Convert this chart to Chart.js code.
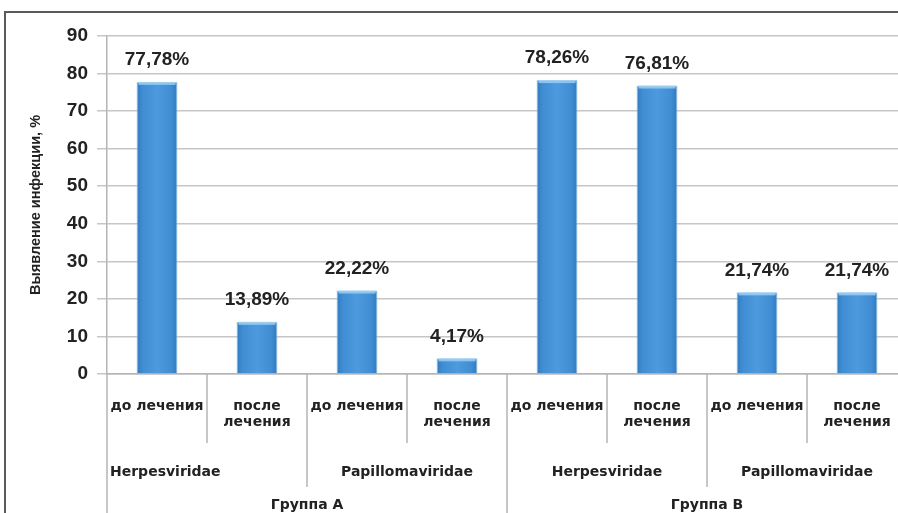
<!DOCTYPE html>
<html>
<head>
<meta charset="utf-8">
<script src="https://cdn.jsdelivr.net/npm/chart.js@4.4.1/dist/chart.umd.min.js"></script>
<style>
  body { margin: 0; background: #fff; overflow: hidden; }
  #wrap { position: relative; width: 898px; height: 513px; overflow: hidden; }
  #frame { position: absolute; left: 4px; top: 11px; width: 1000px; height: 600px;
           border-left: 2px solid #5a5a5a; border-top: 2px solid #5a5a5a; pointer-events: none; }
  canvas { position: absolute; left: 0; top: 0; }
</style>
</head>
<body>
<div id="wrap">
  <canvas id="myChart" width="915" height="513"></canvas>
  <div id="frame"></div>
</div>
<script>
// categories (three levels of the axis)
var stages = [
  "до лечения", ["после", "лечения"], "до лечения", ["после", "лечения"],
  "до лечения", ["после", "лечения"], "до лечения", ["после", "лечения"]
];
var families = ["Herpesviridae", "Papillomaviridae", "Herpesviridae", "Papillomaviridae"];
var groups = ["Группа А", "Группа В"];

// values, %
var values = [77.78, 13.89, 22.22, 4.17, 78.26, 76.81, 21.74, 21.74];

// y ticks
var yMin = 0;
var yMax = 90;
var yStep = 10;

var ctx = document.getElementById("myChart").getContext("2d");

// horizontal gradient so the bars look a bit rounded
function barColor(context) {
  var chart = context.chart;
  var xs = chart.scales.x;
  if (!xs || context.dataIndex === undefined) return "#4a94d6";
  var cx = xs.getPixelForValue(context.dataIndex);
  var w = (xs.width / stages.length) * 0.41;
  if (!isFinite(cx) || !isFinite(w) || w <= 0) return "#4a94d6";
  var g = chart.ctx.createLinearGradient(cx - w / 2, 0, cx + w / 2, 0);
  g.addColorStop(0, "#3079bd");
  g.addColorStop(0.15, "#418dd3");
  g.addColorStop(0.5, "#4f9ade");
  g.addColorStop(0.85, "#418dd3");
  g.addColorStop(1, "#3079bd");
  return g;
}

// percent labels above the bars
var valueLabels = {
  id: "valueLabels",
  afterDatasetsDraw: function (chart) {
    var c = chart.ctx;
    var meta = chart.getDatasetMeta(0);
    c.save();
    c.font = "bold 19px 'Liberation Sans', Arial, sans-serif";
    c.textAlign = "center";
    c.textBaseline = "middle";
    meta.data.forEach(function (bar, i) {
      // light cap on top of the bar
      c.fillStyle = "rgba(160,210,245,0.8)";
      c.fillRect(bar.x - bar.width / 2 + 2, bar.y, bar.width - 4, 3);
      c.fillStyle = "#222";
      var txt = values[i].toFixed(2).replace(".", ",") + "%";
      c.fillText(txt, bar.x, bar.y - 22);
    });
    c.restore();
  }
};

// second and third rows of the category axis plus separators
var groupAxis = {
  id: "groupAxis",
  afterDraw: function (chart) {
    var xs = chart.scales.x;
    var c = chart.ctx;
    var catW = xs.width / stages.length;
    var top = xs.top;
    var bottom = chart.height;
    c.save();
    c.strokeStyle = "#b4b4b4";
    c.lineWidth = 1.5;
    function vline(x, y2) {
      c.beginPath();
      c.moveTo(x, top);
      c.lineTo(x, y2);
      c.stroke();
    }
    for (var i = 0; i <= stages.length; i++) {
      var x = xs.left + i * catW;
      if (i % 4 === 0) vline(x, bottom);
      else if (i % 2 === 0) vline(x, top + 113);
      else vline(x, top + 69);
    }
    c.fillStyle = "#222";
    c.font = "bold 14px 'DejaVu Sans', sans-serif";
    c.textBaseline = "middle";
    var per = stages.length / families.length;
    families.forEach(function (f, k) {
      var l = xs.left + k * per * catW;
      if (k === 0) {
        // first one sits at the left edge in the original
        c.textAlign = "left";
        c.fillText(f, l + 3, top + 98);
      } else {
        c.textAlign = "center";
        c.fillText(f, l + per * catW / 2, top + 98);
      }
    });
    var perG = stages.length / groups.length;
    c.textAlign = "center";
    groups.forEach(function (g, k) {
      var l = xs.left + k * perG * catW;
      c.fillText(g, l + perG * catW / 2, top + 131);
    });
    c.restore();
  }
};

var chart = new Chart(ctx, {
  type: "bar",
  data: {
    labels: stages,
    datasets: [
      {
        data: values,
        backgroundColor: barColor,
        borderColor: "rgba(150,200,240,0.9)",
        borderWidth: 1,
        categoryPercentage: 1,
        barPercentage: 0.41
      }
    ]
  },
  options: {
    responsive: false,
    devicePixelRatio: 1,
    animation: false,
    layout: { padding: { top: 36, right: 5, left: 0, bottom: 0 } },
    plugins: {
      legend: { display: false },
      tooltip: { enabled: false }
    },
    scales: {
      y: {
        min: yMin,
        max: yMax,
        ticks: {
          stepSize: yStep,
          padding: 9,
          color: "#222",
          font: { family: "'Liberation Sans', Arial, sans-serif", size: 19, weight: "bold" }
        },
        grid: { color: "#c6c6c6", lineWidth: 1.5, tickLength: 10 },
        border: { color: "#b4b4b4", width: 1.5 },
        title: {
          display: true,
          text: "Выявление инфекции, %",
          color: "#222",
          font: { family: "'Liberation Sans', Arial, sans-serif", size: 14.5, weight: "bold" },
          padding: { top: 27, bottom: 0 }
        },
        afterFit: function (scale) {
          scale.width = 107;
        }
      },
      x: {
        ticks: {
          padding: 24,
          color: "#222",
          maxRotation: 0,
          autoSkip: false,
          font: { family: "'DejaVu Sans', sans-serif", size: 14, weight: "bold", lineHeight: 1.15 }
        },
        grid: { drawOnChartArea: false, drawTicks: false },
        border: { color: "#b4b4b4", width: 1.5 },
        afterFit: function (scale) {
          scale.height = 139;
        }
      }
    }
  },
  plugins: [valueLabels, groupAxis]
});
</script>
</body>
</html>
